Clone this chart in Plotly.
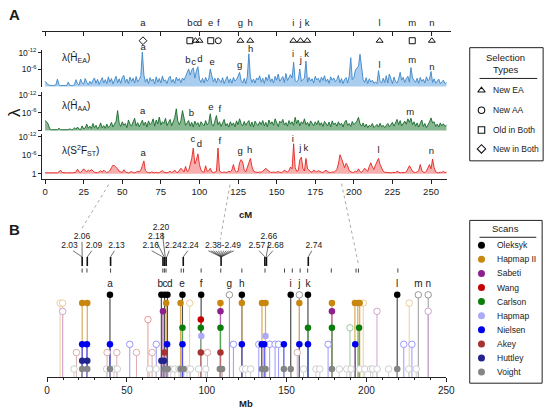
import plotly.graph_objects as go

W, H = 558, 410
FONT = "Liberation Sans, Arial, sans-serif"
TXT = "#1a1a1a"

# ---------------- Panel A: -log10(lambda), one value per cM (0..260) ----------------
ea = [1.8,1.2,0.6,0.4,0.3,0.3,0.4,0.5,2.6,0.6,0.3,0.3,0.4,0.3,0.3,1.5,0.4,0.3,0.3,0.6,
      2.4,1.0,0.5,2.6,1.2,0.8,2.8,1.4,0.6,1.8,0.9,2.2,3.0,1.1,2.5,0.7,1.9,3.1,1.2,2.4,
      1.0,3.4,1.5,2.8,0.9,2.2,3.6,1.3,2.7,1.1,3.2,3.9,1.4,2.6,1.0,3.3,1.8,2.9,1.2,3.5,
      1.6,2.4,3.8,12.2,4.0,1.5,2.7,1.0,3.1,1.9,2.6,0.9,3.4,1.5,2.8,1.2,3.7,1.8,2.3,1.0,
      2.9,3.6,1.4,2.5,1.1,3.3,2.0,2.8,1.3,3.0,2.2,3.5,5.0,6.2,4.0,5.8,6.6,3.0,5.5,7.0,
      2.5,1.4,2.9,1.2,3.2,1.8,2.6,6.2,3.8,1.6,2.9,1.2,3.0,2.2,1.4,3.1,1.0,2.4,3.5,1.3,
      2.7,1.1,3.2,1.9,2.5,3.6,5.0,2.1,1.2,2.8,1.0,3.4,11.6,3.2,1.4,2.6,1.2,3.0,2.3,3.8,
      1.5,2.9,1.1,3.3,2.0,4.2,1.6,2.7,1.2,3.6,2.2,4.4,1.8,2.6,3.5,1.4,4.6,2.1,3.0,4.2,
      3.0,8.6,2.0,1.6,2.4,6.2,1.8,2.5,3.0,9.0,1.5,3.2,1.9,2.7,1.2,3.6,2.3,2.9,1.4,3.3,
      2.1,3.8,1.7,2.6,1.1,3.4,2.2,3.0,1.6,2.4,3.9,1.3,2.8,1.0,2.5,3.1,1.2,3.6,10.2,2.4,
      3.0,5.8,6.6,7.2,11.4,6.4,2.5,1.4,3.1,1.0,2.7,1.5,2.2,1.1,1.6,1.0,5.6,1.8,1.2,2.9,
      1.4,3.8,1.2,4.4,2.6,1.0,3.3,1.8,1.2,2.6,5.0,2.2,3.2,1.4,2.8,3.6,1.5,6.7,3.0,2.0,
      1.4,2.9,1.1,3.2,1.8,2.5,1.2,3.4,2.0,2.6,5.3,1.4,2.7,1.1,1.9,2.6,1.0,1.5,2.2,1.0,
      1.3]
aa = [3.4,3.0,2.2,0.6,0.3,0.3,0.4,0.3,0.3,0.8,0.3,0.3,0.3,0.5,0.3,0.3,0.6,0.3,0.3,1.0,
      0.4,1.2,0.5,0.3,1.6,0.6,0.9,2.2,0.8,1.5,0.7,2.4,1.0,1.8,0.6,1.3,2.6,0.9,1.7,0.8,
      2.2,1.0,1.6,2.8,1.2,2.0,3.2,6.8,2.5,1.4,3.0,1.8,2.4,1.0,3.6,2.2,1.5,2.9,4.2,1.6,
      2.7,1.3,2.4,3.5,1.8,2.9,1.2,3.3,2.0,2.6,4.0,1.5,3.6,2.3,4.6,1.9,3.0,2.4,4.2,1.7,
      2.8,3.8,1.6,3.0,4.4,7.4,3.2,2.0,3.4,6.8,3.6,1.8,2.6,3.4,1.5,2.8,1.2,3.2,2.0,2.7,
      1.4,3.0,2.2,1.6,3.4,1.9,2.6,5.7,2.2,1.5,3.2,5.1,2.0,3.0,1.4,2.6,3.8,1.6,2.4,1.2,
      3.0,1.8,2.6,1.3,3.3,2.0,4.0,2.4,1.6,3.1,1.8,2.7,3.4,1.5,2.9,1.2,3.2,2.2,1.7,3.0,
      2.0,3.4,1.6,2.8,1.3,3.6,2.2,3.0,1.8,4.0,2.5,1.4,3.2,2.6,3.8,1.9,2.7,1.5,3.4,2.2,
      3.0,1.8,4.5,2.4,3.6,1.6,3.0,2.3,4.0,2.0,2.8,1.5,3.3,2.5,1.6,3.0,2.0,3.4,1.8,2.7,
      1.4,3.1,2.2,1.6,2.9,1.3,3.3,2.0,2.6,1.5,3.0,1.9,2.5,1.2,2.8,3.5,1.8,2.4,1.4,3.1,
      2.0,2.7,3.2,4.5,2.3,1.5,2.6,1.2,2.2,1.0,1.8,1.4,2.4,1.0,1.6,2.1,1.2,2.5,1.3,1.8,
      1.0,1.6,2.4,1.3,1.9,2.8,1.5,3.0,3.8,2.0,3.4,1.6,2.6,3.2,2.2,4.0,2.8,4.2,2.0,3.0,
      1.5,2.6,1.2,2.2,3.6,1.4,2.4,1.0,1.8,2.9,4.3,2.6,3.0,1.4,2.2,1.2,2.6,1.6,2.3,1.4,
      1.8]
fst = [0.3,0.3,0.4,0.3,0.3,0.3,0.3,0.3,0.3,0.6,1.2,0.4,0.3,0.3,0.3,0.3,0.4,0.3,0.3,0.3,
       0.5,1.5,0.6,0.4,0.9,1.6,1.0,0.7,1.2,0.8,1.4,0.9,0.5,0.4,0.3,0.6,1.0,0.5,1.2,0.7,
       0.4,0.6,1.0,2.0,2.8,2.6,2.2,1.6,0.8,0.5,0.4,1.3,0.6,0.4,0.3,0.5,0.7,0.4,0.3,0.5,
       0.8,0.6,1.2,2.6,4.2,1.0,0.5,0.4,0.3,0.6,0.4,0.3,0.5,0.3,0.4,0.6,1.0,0.5,0.4,0.3,
       0.5,0.8,0.4,0.6,1.2,0.5,0.4,1.0,1.8,1.2,0.6,2.4,0.8,1.0,2.6,5.0,8.4,3.2,4.5,6.5,
       3.0,1.2,0.6,0.5,2.6,0.8,1.0,1.8,0.6,0.4,0.5,0.8,8.4,0.9,0.5,0.4,0.6,0.4,0.5,0.8,
       0.6,1.2,3.0,1.0,0.6,0.8,3.6,4.6,3.8,1.2,0.6,2.0,3.8,5.0,2.4,0.9,0.6,0.5,0.4,0.6,
       0.5,0.8,1.4,1.8,1.2,0.7,0.5,0.4,0.6,0.4,0.5,0.7,0.5,0.4,0.6,1.2,0.8,0.6,1.0,2.2,
       1.6,9.8,2.0,0.8,1.0,4.5,5.4,1.8,0.9,5.0,1.6,1.0,0.7,0.5,1.2,0.8,0.6,1.0,0.7,0.5,
       0.4,0.8,1.2,0.6,0.5,0.4,0.6,0.5,0.8,1.4,3.2,6.2,5.0,3.6,2.0,3.4,2.6,1.0,0.6,0.4,
       0.5,0.8,0.6,1.6,0.7,0.5,1.0,1.8,1.2,0.8,2.4,3.6,2.2,1.4,2.8,3.8,5.0,3.0,1.6,0.8,
       0.5,0.4,0.3,0.4,0.3,0.4,0.3,0.4,0.8,0.5,0.3,0.4,0.3,0.4,0.6,1.4,2.6,1.8,0.8,0.5,
       0.4,0.6,1.0,3.0,1.2,0.5,0.4,0.8,1.8,3.0,1.6,4.8,2.0,0.6,0.4,0.3,0.5,0.4,0.8,0.4,
       0.5]
cm = list(range(len(ea)))

# regions a..n
regions = ['a','b','c','d','e','f','g','h','i','j','k','l','m','n']
region_cm = [63.4, 93.8, 97.4, 100.0, 107.3, 112.2, 126.5, 132.9, 160.8, 165.4, 169.8, 216.7, 237.8, 250.5]
region_type = ['New in Both','Old in Both','New EA','New EA','Old in Both','New AA','New EA',
               'New EA','New EA','New EA','New EA','New EA','Old in Both','New EA']
region_mb = [39.4, 70.9, 73.8, 76.8, 84.6, 96.5, 114.2, 122.0, 152.6, 158.0, 163.4, 219.3, 232.5, 238.7]
sel_types = ['New EA','New AA','Old in Both','New in Both']
sel_symbols = ['triangle-up-open','circle-open','square-open','diamond-open']

# peak labels per track
ea_lab = ['a','b','c','d','e','g','h','i','j','k','l','m','n']
ea_lab_cm = [63.5, 92.5, 96.2, 100.3, 108.2, 126.0, 133.1, 160.6, 165.7, 169.5, 216.6, 237.9, 250.6]
ea_lab_v = [13.8, 9.2, 8.5, 9.5, 8.5, 7.4, 13.1, 11.3, 9.2, 11.3, 7.4, 9.2, 6.7]
aa_lab = ['a','b','e','f','m']
aa_lab_cm = [63.2, 94.8, 107.5, 113.2, 236.6]
aa_lab_v = [6.5, 5.9, 7.9, 7.0, 6.0]
fst_lab = ['a','c','d','f','g','h','i','j','k','l','n']
fst_lab_cm = [63.6, 95.7, 99.9, 113.2, 126.3, 132.5, 160.5, 165.4, 169.0, 216.0, 250.3]
fst_lab_v = [6.6, 11.3, 9.5, 10.4, 7.1, 7.7, 11.3, 8.2, 8.2, 7.5, 7.1]

# ---------------- Panel B: scans (Mb) ----------------
scan_names = ['Oleksyk','Hapmap II','Sabeti','Wang','Carlson','Hapmap','Nielsen','Akey','Huttley','Voight']
scan_colors = ['#000000','#c8870e','#8e1f8e','#c40000','#0a7d0a','#aaaaf8','#0000f0','#a83232','#23238e','#858585']
sig_mb = [
    [39.4, 71.6, 73.6, 75.4, 84.8, 96.5, 122.0, 152.6, 163.4, 219.3],
    [22.0, 25.2, 74.6, 83.6, 108.6, 122.0, 134.6, 136.8, 158.0, 178.4, 192.8, 194.6, 195.8],
    [72.6, 108.6, 178.4],
    [96.3],
    [84.8, 96.3, 108.6, 163.4, 178.4, 195.4],
    [96.6, 136.8],
    [22.0, 25.0, 39.4, 75.2, 84.8, 122.0, 134.4, 136.0, 148.3, 158.0, 163.4, 193.0],
    [73.6, 96.3, 108.6],
    [22.0, 25.2, 71.6, 73.2],
    [22.0, 25.2, 39.4, 73.8, 75.6, 83.6, 85.6, 108.2, 109.6, 134.6, 136.8, 148.3, 152.6, 178.4, 219.3],
]
other_mb = [
    [114.2, 158.0, 232.5, 238.7],
    [8.2, 9.8, 89.3, 198.0, 226.8],
    [9.8, 206.6, 238.7],
    [63.2],
    [189.7],
    [],
    [51.8, 68.4, 116.7, 132.6, 139.4, 142.8, 145.0, 176.0, 223.4, 228.5],
    [18.4, 37.6, 43.7, 56.0, 65.8, 100.5, 156.7],
    [],
    [16.9, 37.3, 42.0, 44.0, 64.2, 68.3, 77.5, 80.0, 82.6, 87.7, 89.8, 94.9, 99.4, 122.4, 124.4,
     127.5, 160.6, 168.4, 170.8, 183.0, 187.7, 190.4, 195.9, 199.0, 202.6, 204.0, 206.7, 213.9,
     226.5, 231.2],
]
below_axis_mb = [96.5]

# genetic-map markers above panel B
map_bar_mb = [22.0, 25.2, 39.8, 72.6, 73.6, 74.6, 85.3, 109.0, 136.4, 137.4, 163.6]
map_tick_mb = [22.0, 25.0, 39.8, 72.5, 73.5, 74.5, 84.0, 85.5, 96.5, 108.8, 122.0, 136.5,
               148.7, 153.6, 158.5, 163.2, 178.0, 193.5, 195.0, 219.7]
map_labels = ['2.03','2.06','2.09','2.13','2.16','2.18','2.20','2.24','2.24','2.38-2.49','2.57','2.66','2.68','2.74']
map_label_mb = [14.1, 21.9, 29.4, 43.5, 64.9, 68.4, 71.4, 79.1, 89.8, 110.2, 131.4, 138.9, 143.0, 167.1]
map_label_row = [0, 1, 0, 0, 0, 1, 2, 0, 0, 0, 0, 1, 0, 0]
map_leader_from = [16.3, 21.9, 28.0, 42.2, 65.5, 68.5, 72.2, 76.5, 88.1, None, 132.8, 138.9, 141.4, 165.8]
map_leader_to = [22.0, 22.0, 25.2, 39.8, 72.6, 73.4, 74.0, 75.0, 85.3, 109.0, 136.5, 137.2, 138.0, 163.6]
fan_from = [101.0, 102.6, 104.2, 105.8, 107.4, 109.0, 110.6, 112.2, 113.8, 115.4, 117.0]


def fx(px):
    return px / W


def fy(py):
    return 1 - py / H


def fade(hexc, a=0.42):
    r, g, b = int(hexc[1:3], 16), int(hexc[3:5], 16), int(hexc[5:7], 16)
    m = lambda c: int(round(c * a + 255 * (1 - a)))
    return 'rgb(%d,%d,%d)' % (m(r), m(g), m(b))


fig = go.Figure()

# ---------- Panel A tracks ----------
tracks = [('y', 'y8', ea, '#3d86c6', 'rgba(160,200,236,0.9)', ea_lab, ea_lab_cm, ea_lab_v),
          ('y2', 'y2', aa, '#17692b', 'rgba(95,160,110,0.75)', aa_lab, aa_lab_cm, aa_lab_v),
          ('y3', 'y3', fst, '#e3261f', 'rgba(246,160,160,0.85)', fst_lab, fst_lab_cm, fst_lab_v)]
for yax, ylab, vals, lc, fc, labs, lcm, lv in tracks:
    fig.add_trace(go.Scatter(x=cm, y=vals, xaxis='x', yaxis=yax, mode='lines',
                             line=dict(color=lc, width=0.9), fill='tozeroy', fillcolor=fc,
                             hoverinfo='skip'))
    fig.add_trace(go.Scatter(x=lcm, y=lv, xaxis='x', yaxis=ylab, mode='text', text=labs,
                             textposition='middle center', cliponaxis=False,
                             textfont=dict(size=9.5, color=TXT, family=FONT), hoverinfo='skip'))

# header: letters + selection symbols (y4: value = 45 - pixel row)
fig.add_trace(go.Scatter(x=region_cm, y=[24] * len(regions), xaxis='x2', yaxis='y4', mode='text',
                         text=regions, textposition='middle center', cliponaxis=False,
                         textfont=dict(size=9.5, color=TXT, family=FONT), hoverinfo='skip'))
sym_map = dict(zip(sel_types, sel_symbols))
fig.add_trace(go.Scatter(x=region_cm, y=[7] * len(regions), xaxis='x2', yaxis='y4', mode='markers',
                         marker=dict(symbol=[sym_map[t] for t in region_type], size=6,
                                     color='#111', line=dict(width=1)),
                         cliponaxis=False, hoverinfo='skip'))
fig.add_trace(go.Scatter(x=[], y=[], xaxis='x2', yaxis='y7', mode='markers', hoverinfo='skip'))

# ---------- Panel B lollipops ----------
n_scan = len(scan_names)
levels = [n_scan - i for i in range(n_scan)]
for i in range(n_scan):
    lev = levels[i]
    xs, ys = [], []
    for m in other_mb[i]:
        xs += [m, m, None]; ys += [0, lev, None]
    if xs:
        fig.add_trace(go.Scatter(x=xs, y=ys, xaxis='x3', yaxis='y5', mode='lines',
                                 line=dict(color=fade(scan_colors[i], 0.4), width=1), hoverinfo='skip'))
for i in range(n_scan):
    lev = levels[i]
    xs, ys = [], []
    for m in sig_mb[i]:
        xs += [m, m, None]; ys += [0, lev, None]
    fig.add_trace(go.Scatter(x=xs, y=ys, xaxis='x3', yaxis='y5', mode='lines',
                             line=dict(color=fade(scan_colors[i], 0.7), width=1.2), hoverinfo='skip'))
for i in range(n_scan):
    lev = levels[i]
    if other_mb[i]:
        fig.add_trace(go.Scatter(x=other_mb[i], y=[lev] * len(other_mb[i]), xaxis='x3', yaxis='y5',
                                 mode='markers', cliponaxis=False,
                                 marker=dict(symbol='circle', size=6.5, color='white',
                                             line=dict(color=fade(scan_colors[i], 0.45), width=0.9)),
                                 hoverinfo='skip'))
for i in range(n_scan):
    lev = levels[i]
    fig.add_trace(go.Scatter(x=sig_mb[i], y=[lev] * len(sig_mb[i]), xaxis='x3', yaxis='y5',
                             mode='markers', cliponaxis=False,
                             marker=dict(symbol='circle', size=6.5, color=scan_colors[i]),
                             hoverinfo='skip'))
fig.add_trace(go.Scatter(x=below_axis_mb, y=[-0.3] * len(below_axis_mb), xaxis='x3', yaxis='y5',
                         mode='markers', cliponaxis=False,
                         marker=dict(symbol='circle-open', size=6.5, color='#333', line=dict(width=0.9)),
                         hoverinfo='skip'))
fig.add_trace(go.Scatter(x=region_mb, y=[11.3] * len(regions), xaxis='x3', yaxis='y5', mode='text',
                         text=regions, textposition='middle center', cliponaxis=False,
                         textfont=dict(size=10, color=TXT, family=FONT), hoverinfo='skip'))

# genetic map: small ticks, bars, leaders, labels
xs, ys = [], []
for m in map_tick_mb:
    xs += [m, m, None]; ys += [12.7, 13.2, None]
fig.add_trace(go.Scatter(x=xs, y=ys, xaxis='x3', yaxis='y5', mode='lines', cliponaxis=False,
                         line=dict(color='#444', width=1), hoverinfo='skip'))
xs, ys = [], []
for m in map_bar_mb:
    xs += [m, m, None]; ys += [13.5, 14.6, None]
fig.add_trace(go.Scatter(x=xs, y=ys, xaxis='x3', yaxis='y5', mode='lines', cliponaxis=False,
                         line=dict(color='#111', width=1.6), hoverinfo='skip'))
row_lev = [15.9, 17.0, 18.1]
xs, ys = [], []
for k in range(len(map_labels)):
    if map_leader_from[k] is None:
        continue
    xs += [map_leader_from[k], map_leader_to[k], None]
    ys += [row_lev[map_label_row[k]] - 0.55, 14.6, None]
for f in fan_from:
    xs += [f, 109.0, None]; ys += [15.35, 14.6, None]
fig.add_trace(go.Scatter(x=xs, y=ys, xaxis='x3', yaxis='y5', mode='lines', cliponaxis=False,
                         line=dict(color='#333', width=0.7), hoverinfo='skip'))
fig.add_trace(go.Scatter(x=map_label_mb, y=[row_lev[r] for r in map_label_row], xaxis='x3', yaxis='y5',
                         mode='text', text=map_labels, textposition='middle center', cliponaxis=False,
                         textfont=dict(size=8.5, color=TXT, family=FONT), hoverinfo='skip'))

# ---------- legends (pixel overlay axis) ----------
leg1_y = [88, 108, 128, 147]
fig.add_trace(go.Scatter(x=[489] * 4, y=leg1_y, xaxis='x4', yaxis='y6', mode='markers',
                         marker=dict(symbol=sel_symbols, size=6.5, color='#111', line=dict(width=1.1)),
                         hoverinfo='skip'))
leg2_y = [244 + 14.2 * i for i in range(n_scan)]
fig.add_trace(go.Scatter(x=[489] * n_scan, y=leg2_y, xaxis='x4', yaxis='y6', mode='markers',
                         marker=dict(symbol='circle', size=7, color=scan_colors), hoverinfo='skip'))

ann = []
def txt(x, y, s, size=9, anchor='center', bold=False, angle=0):
    ann.append(dict(x=fx(x), y=fy(y), xref='paper', yref='paper', text=('<b>%s</b>' % s) if bold else s,
                    showarrow=False, xanchor=anchor, yanchor='middle', textangle=angle,
                    font=dict(size=size, color=TXT, family=FONT)))

txt(514, 55, 'Selection', 9.5)
txt(514, 67, 'Types', 9.5)
for k, s in enumerate(sel_types):
    txt(499, leg1_y[k], s, 8.5, 'left')
txt(514, 227, 'Scans', 9.5)
for k, s in enumerate(scan_names):
    txt(503, leg2_y[k], s, 8.5, 'left')

txt(12, 12, 'A', 15, bold=True)
txt(12, 228, 'B', 15, bold=True)
txt(11, 110, 'λ', 17, angle=-90)
txt(58, 55, 'λ(Ĥ<sub>EA</sub>)', 10, 'left')
txt(58, 103, 'λ(Ĥ<sub>AA</sub>)', 10, 'left')
txt(58, 149, 'λ(S<sup>2</sup>F<sub>ST</sub>)', 10, 'left')
txt(248, 213, 'cM', 9.5, bold=True)
txt(248, 403, 'Mb', 9.5, bold=True)

shapes = [
    dict(type='rect', xref='paper', yref='paper', x0=fx(477), x1=fx(552), y0=fy(159), y1=fy(45),
         line=dict(color='#222', width=1)),
    dict(type='line', xref='paper', yref='paper', x0=fx(487), x1=fx(546), y0=fy(76), y1=fy(76),
         line=dict(color='#222', width=1)),
    dict(type='rect', xref='paper', yref='paper', x0=fx(477), x1=fx(551), y0=fy(383), y1=fy(219),
         line=dict(color='#222', width=1)),
    dict(type='line', xref='paper', yref='paper', x0=fx(487), x1=fx(545), y0=fy(236), y1=fy(236),
         line=dict(color='#222', width=1)),
]
for (x0, y0, x1, y1) in [(108, 183, 80, 228), (232, 183, 222, 238), (346, 182, 363, 262)]:
    shapes.append(dict(type='line', xref='paper', yref='paper', x0=fx(x0), y0=fy(y0), x1=fx(x1), y1=fy(y1),
                       line=dict(color='#aaaaaa', width=1, dash='dot')))

tickfont = dict(size=9.5, color=TXT, family=FONT)
CM_PX = 1.578  # pixels per cM
x_left_cm = -3.0 / CM_PX
EA_PX = 2.833  # pixels per unit in EA track


def track_axis(ytop, ybot, rng, tv, tt):
    return dict(domain=[fy(ybot), fy(ytop)], range=rng, anchor='x',
                showline=True, linecolor='#222', linewidth=1, ticks='outside', ticklen=3,
                tickcolor='#222', tickvals=tv, ticktext=tt, showgrid=False, zeroline=False,
                tickfont=dict(size=8.5, color=TXT, family=FONT))

fig.update_layout(
    width=W, height=H, margin=dict(l=0, r=0, t=0, b=0),
    plot_bgcolor='rgba(0,0,0,0)', paper_bgcolor='white', showlegend=False,
    xaxis=dict(domain=[fx(40), fx(454)], range=[x_left_cm, 260.5], anchor='y3',
               showline=True, linecolor='#222', ticks='outside', ticklen=4, tickcolor='#222',
               tickvals=[0, 25, 50, 75, 100, 125, 150, 175, 200, 225, 250], showgrid=False,
               zeroline=False, tickfont=tickfont),
    xaxis2=dict(domain=[fx(40), fx(458)], range=[x_left_cm, 263], anchor='y7', side='top',
                showline=True, linecolor='#222', ticks='inside', ticklen=4, tickcolor='#222',
                tickvals=[0, 25, 50, 75, 100, 125, 150, 175, 200, 225, 250], showticklabels=False,
                showgrid=False, zeroline=False),
    xaxis3=dict(domain=[fx(45), fx(453)], range=[0, 250], anchor='y5',
                showline=True, linecolor='#222', ticks='outside', ticklen=4, tickcolor='#222',
                tickvals=[0, 50, 100, 150, 200, 250], showgrid=False, zeroline=False,
                minor=dict(dtick=10, ticks='outside', ticklen=2, tickcolor='#222'),
                tickfont=dict(size=10, color=TXT, family=FONT)),
    xaxis4=dict(domain=[0, 1], range=[0, W], visible=False, anchor='y6'),
    yaxis=track_axis(47.17, 84.85, [-0.3, 13], [12, 6], ['10<sup>-12</sup>', '10<sup>-6</sup>']),
    yaxis2=track_axis(90.0, 129.4, [-0.3, 13], [12, 6, 0], ['10<sup>-12</sup>', '10<sup>-6</sup>', '']),
    yaxis3=track_axis(131.9, 177.0, [-1.62, 13], [12, 6, 0], ['10<sup>-12</sup>', '10<sup>-6</sup>', '1']),
    yaxis4=dict(domain=[fy(45), fy(12)], range=[0, 33], visible=False, anchor='x2'),
    yaxis5=dict(domain=[fy(377), fy(219.3)], range=[0, 19], visible=False, anchor='x3'),
    yaxis6=dict(domain=[0, 1], range=[H, 0], visible=False, anchor='x4'),
    yaxis7=dict(domain=[fy(30), fy(29)], range=[0, 1], visible=False, anchor='x2'),
    yaxis8=dict(domain=[fy(84.85), fy(38)], range=[-0.3, -0.3 + (84.85 - 38) / EA_PX],
                visible=False, anchor='x'),
    annotations=ann, shapes=shapes,
)

fig.write_html("out.html", config={'displayModeBar': False},
               post_script="document.body.style.margin='0';")
